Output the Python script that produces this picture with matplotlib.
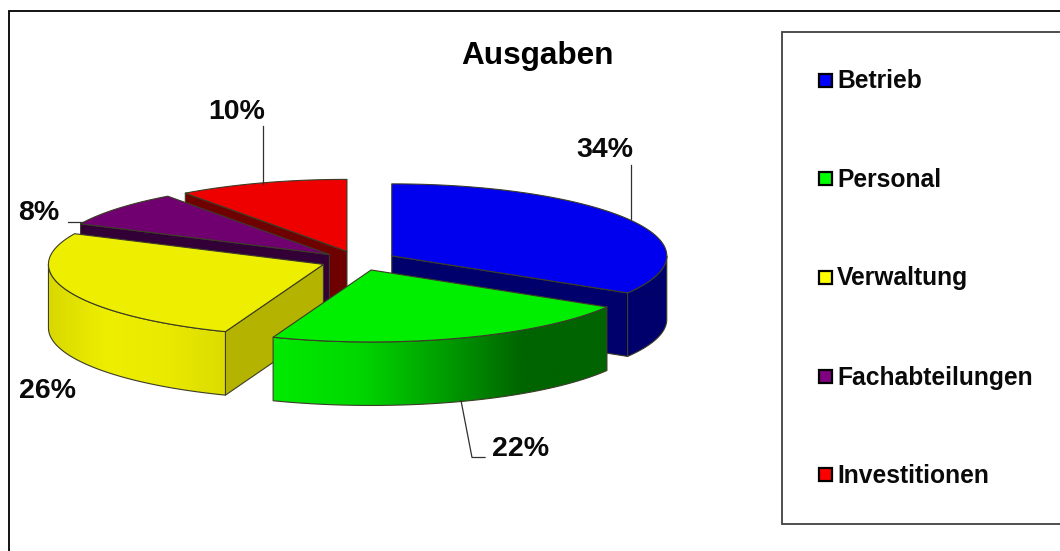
import numpy as np
import matplotlib
matplotlib.use("Agg")
import matplotlib.pyplot as plt
from matplotlib.patches import Polygon, Rectangle
from matplotlib.colors import LinearSegmentedColormap

title = "Ausgaben"
categories = ["Betrieb", "Personal", "Verwaltung", "Fachabteilungen", "Investitionen"]
values = [33.6, 22.2, 26.2, 8.0, 10.0]
pct_labels = ["34%", "22%", "26%", "8%", "10%"]

legend_colors = ["#0000ff", "#00ff00", "#ffff00", "#800080", "#ff0000"]
top_colors = ["#0000ee", "#00ee00", "#eeee00", "#700070", "#ee0000"]
face_colors = ["#00006c", "#006400", "#b4b400", "#320037", "#6e0000"]
wall_stops = {
    0: ["#00006c", "#00006c"],
    1: ["#00ea00", "#00d800", "#00a000", "#006400", "#006400"],
    2: ["#d8d800", "#eeee00", "#eaea00", "#dcdc00"],
}

W, H = 1060, 551
CX, CY = 358.7, 260.7
A, B = 275.0, 72.0
DEPTH = 63.5
EX, EY = 38.0, 9.8
EDGE = "#3c3c28"
FONT = "Liberation Sans"

fig = plt.figure(figsize=(W / 100, H / 100), dpi=100, facecolor="white")
ax = fig.add_axes([0, 0, 1, 1])
ax.set_xlim(0, W)
ax.set_ylim(H, 0)
ax.axis("off")

total = sum(values)
edges = np.concatenate([[0], np.cumsum(values)]) / total * 2 * np.pi


def apex(i):
    m = (edges[i] + edges[i + 1]) / 2
    return CX + EX * np.sin(m), CY - EY * np.cos(m)


def rim(i, t):
    x0, y0 = apex(i)
    return x0 + A * np.sin(t), y0 - B * np.cos(t)


def add_poly(pts, fc, z, lw=0.8):
    p = Polygon(pts, closed=True, facecolor=fc, edgecolor=EDGE, linewidth=lw,
                joinstyle="round", zorder=z)
    ax.add_patch(p)
    return p


def draw_slice(i, z):
    s, e = edges[i], edges[i + 1]
    x0, y0 = apex(i)
    # cut face turned toward the viewer
    for t, out in ((s, s - np.pi / 2), (e, e + np.pi / 2)):
        if np.cos(out) < -1e-6:
            rx, ry = rim(i, t)
            add_poly([(x0, y0), (rx, ry), (rx, ry + DEPTH), (x0, y0 + DEPTH)],
                     face_colors[i], z)
    # outer wall on the front half
    a0, a1 = max(s, np.pi / 2), min(e, 3 * np.pi / 2)
    if a1 > a0:
        ts = np.linspace(a0, a1, 160)
        rx, ry = rim(i, ts)
        pts = list(zip(rx, ry)) + list(zip(rx[::-1], ry[::-1] + DEPTH))
        p = add_poly(pts, "none", z + 0.2)
        grad = np.linspace(0, 1, 400).reshape(1, -1)
        cmap = LinearSegmentedColormap.from_list("w", wall_stops[i])
        im = ax.imshow(grad, cmap=cmap, aspect="auto", zorder=z + 0.1,
                       extent=[rx.min(), rx.max(), ry.max() + DEPTH, ry.min()])
        im.set_clip_path(p)
    # top
    ts = np.linspace(s, e, 200)
    rx, ry = rim(i, ts)
    add_poly([(x0, y0)] + list(zip(rx, ry)), top_colors[i], z + 0.3)


for z, i in enumerate([4, 3, 2, 0, 1]):
    draw_slice(i, 2 + z)
ax.set_xlim(0, W)
ax.set_ylim(H, 0)

# chart frame and legend box
ax.plot([8.5, 8.5, W + 2], [H + 2, 11, 11], color="#000000", lw=1.3, zorder=1,
        solid_joinstyle="miter")
ax.add_patch(Rectangle((781.5, 31.5), 300, 492.5, facecolor="white",
                       edgecolor="#404040", lw=1.3, zorder=1))

ax.text(537, 56, title, fontsize=22.7, fontweight="bold", family=FONT,
        ha="center", va="center", color="black", zorder=20)

legend_y = [80, 178.5, 277, 376, 474.5]
for name, col, y in zip(categories, legend_colors, legend_y):
    ax.add_patch(Rectangle((818.5, y - 6.5), 13, 13, facecolor=col, edgecolor="black",
                           lw=1.6, zorder=20))
    ax.text(837, y + 1.5, name, fontsize=17.75, fontweight="bold", family=FONT,
            ha="left", va="center", color="#0a0a0a", zorder=20)

# percent labels with leader lines
label_xy = [(605, 150), (521, 449), (47, 391), (39, 213), (237, 112)]
for txt, (x, y) in zip(pct_labels, label_xy):
    ax.text(x, y, txt, fontsize=20.5, fontweight="bold", family=FONT,
            ha="center", va="center", color="#0a0a0a", zorder=20)


def mid_rim(i):
    return rim(i, (edges[i] + edges[i + 1]) / 2)


lc = dict(color="#303030", lw=0.9, zorder=19)
x, y = mid_rim(0)
ax.plot([631, 631], [y - 1, 165], **lc)
x, y = mid_rim(1)
ax.plot([461, 472, 485], [y + DEPTH - 1, 457.5, 457.5], **lc)
x, y = mid_rim(4)
ax.plot([x + 1, x + 1], [y + 1, 126], **lc)
x, y = rim(3, edges[3])
ax.plot([x + 2, 68], [y - 2, y - 2], **lc)

fig.savefig("out.png", dpi=100, facecolor="white")
